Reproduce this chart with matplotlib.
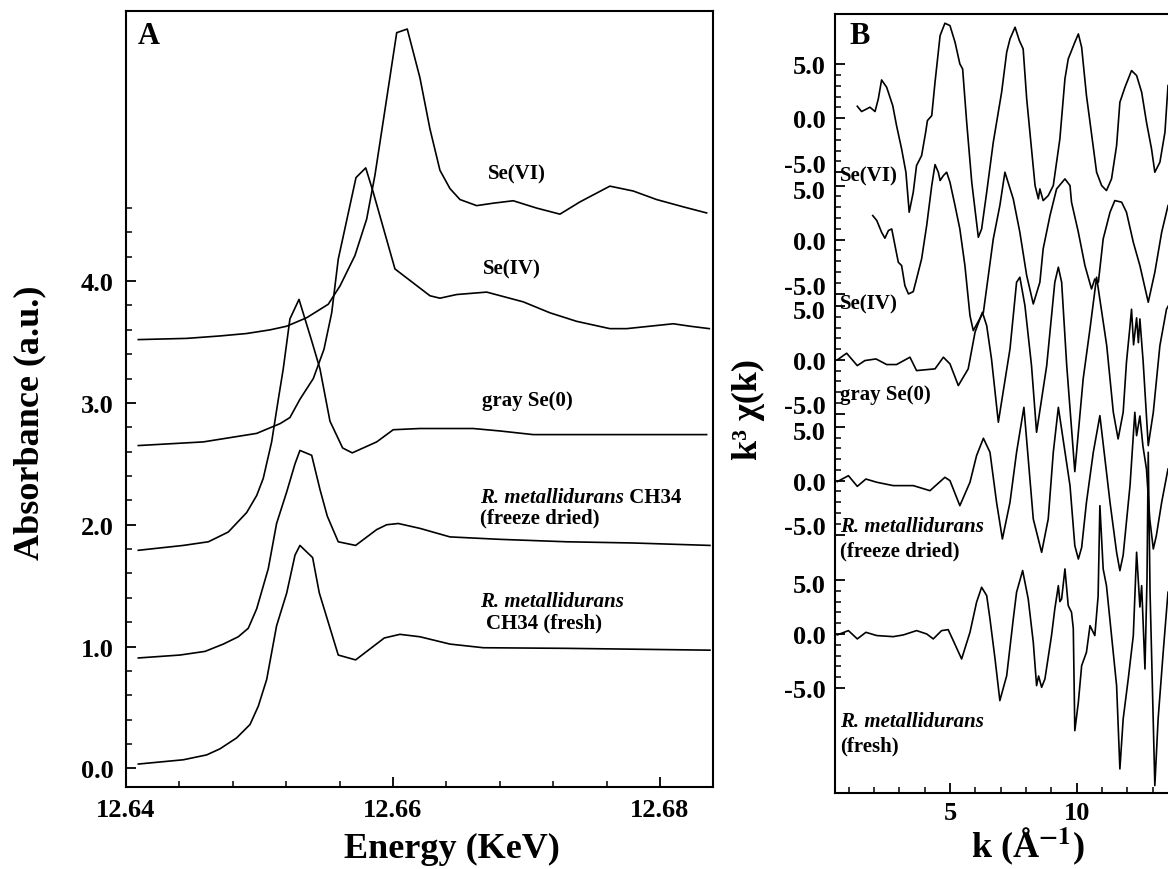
import matplotlib.pyplot as plt
from matplotlib.ticker import FixedLocator, MultipleLocator
from matplotlib.transforms import ScaledTranslation

plt.rcParams['font.family'] = ['Liberation Serif', 'DejaVu Serif']
plt.rcParams['font.weight'] = 'bold'
plt.rcParams['mathtext.fontset'] = 'stix'

# ---------------- panel A: XANES (energy in keV, absorbance) ----------------
fresh_e = [12.64092, 12.64429, 12.64604, 12.64704, 12.64829, 12.64929, 12.64991, 12.65054,
           12.65128, 12.65204, 12.65266, 12.65303, 12.65398, 12.65448, 12.6559, 12.6572,
           12.65935, 12.66052, 12.66202, 12.66427, 12.66677, 12.673, 12.68375]
fresh_a = [0.035, 0.07, 0.11, 0.16, 0.25, 0.36, 0.51, 0.73, 1.17, 1.44, 1.75, 1.83,
           1.73, 1.44, 0.93, 0.89, 1.07, 1.10, 1.08, 1.02, 0.99, 0.985, 0.97]

freeze_e = [12.64092, 12.64404, 12.64592, 12.64729, 12.64841, 12.64916, 12.64979, 12.65066,
            12.65128, 12.65204, 12.65266, 12.65303, 12.65391, 12.65453, 12.65508, 12.6559,
            12.6572, 12.65878, 12.65953, 12.6604, 12.66202, 12.66427, 12.66801, 12.673,
            12.678, 12.68375]
freeze_a = [0.906, 0.93, 0.96, 1.02, 1.08, 1.15, 1.31, 1.64, 2.01, 2.27, 2.50, 2.61,
            2.57, 2.29, 2.07, 1.86, 1.83, 1.96, 2.0, 2.01, 1.97, 1.90, 1.88, 1.86,
            1.85, 1.83]

gray_e = [12.64092, 12.64429, 12.64617, 12.64766, 12.64904, 12.64979, 12.65028, 12.65091,
          12.65141, 12.65178, 12.65228, 12.65296, 12.65391, 12.65453, 12.65528, 12.65623,
          12.65695, 12.65878, 12.66002, 12.66202, 12.666, 12.668, 12.6705, 12.67425, 12.6835]
gray_a = [1.79, 1.83, 1.86, 1.94, 2.10, 2.24, 2.38, 2.68, 3.03, 3.28, 3.69, 3.85,
          3.51, 3.28, 2.85, 2.63, 2.59, 2.68, 2.78, 2.79, 2.79, 2.77, 2.74, 2.74, 2.74]

se4_e = [12.64092, 12.64579, 12.64979, 12.65154, 12.65228, 12.65303, 12.65403, 12.65483,
         12.65541, 12.6559, 12.65723, 12.65796, 12.65852, 12.66015, 12.66277, 12.66352,
         12.66477, 12.66702, 12.66976, 12.67176, 12.67376, 12.67625, 12.67751, 12.67925,
         12.681, 12.68225, 12.6837]
se4_a = [2.65, 2.68, 2.75, 2.83, 2.88, 3.03, 3.20, 3.44, 3.74, 4.18, 4.85, 4.93,
         4.73, 4.10, 3.88, 3.86, 3.89, 3.91, 3.83, 3.74, 3.67, 3.61, 3.61, 3.63,
         3.65, 3.63, 3.61]

se6_e = [12.64092, 12.64455, 12.64704, 12.64904, 12.65079, 12.65204, 12.65354, 12.65515,
         12.65603, 12.65715, 12.65803, 12.65865, 12.65953, 12.66028, 12.66107, 12.66202,
         12.66277, 12.66352, 12.66427, 12.66502, 12.66627, 12.66751, 12.66901, 12.67076,
         12.67251, 12.674, 12.67625, 12.678, 12.67975, 12.68175, 12.6835]
se6_a = [3.52, 3.53, 3.55, 3.57, 3.60, 3.63, 3.70, 3.81, 3.96, 4.21, 4.51, 4.87,
         5.50, 6.04, 6.07, 5.67, 5.25, 4.91, 4.76, 4.67, 4.62, 4.64, 4.66, 4.60,
         4.55, 4.65, 4.78, 4.74, 4.67, 4.61, 4.56]

# ---------------- panel B: EXAFS k^3 chi(k) ----------------
se6_k = [1.34, 1.51, 1.71, 1.84, 2.04, 2.17, 2.30, 2.50, 2.74, 2.89, 3.09, 3.26, 3.39,
         3.55, 3.68, 3.88, 4.04, 4.11, 4.28, 4.41, 4.61, 4.80, 5.00, 5.20, 5.39, 5.50,
         5.66, 5.86, 6.12, 6.25, 6.45, 6.71, 7.04, 7.24, 7.37, 7.57, 7.74, 7.89, 8.03,
         8.22, 8.36, 8.49, 8.55, 8.68, 8.88, 9.08, 9.34, 9.54, 9.67, 9.93, 10.07, 10.20,
         10.39, 10.53, 10.79, 10.99, 11.18, 11.38, 11.58, 11.71, 11.91, 12.17, 12.37,
         12.57, 12.76, 12.96, 13.09, 13.29, 13.49, 13.61]
se6_chi = [1.11, 0.62, 0.86, 1.02, 0.62, 1.79, 3.55, 2.87, 1.17, -0.68, -2.85, -5.01,
           -8.72, -6.87, -4.39, -3.47, -1.30, -0.22, 0.24, 3.34, 7.67, 8.81, 8.59, 7.05,
           5.04, 4.57, -0.37, -5.94, -11.04, -10.27, -6.87, -2.23, 2.41, 6.12, 7.35,
           8.44, 7.20, 6.43, 1.79, -2.85, -6.25, -7.48, -6.56, -7.64, -7.18, -6.25,
           -1.92, 3.65, 5.50, 7.04, 7.82, 6.58, 2.10, -0.37, -5.01, -6.25, -6.71, -5.63,
           -2.54, 1.48, 2.87, 4.42, 3.96, 2.41, -0.37, -2.85, -5.01, -4.08, -1.30, 3.03]

se4_k = [1.95, 2.11, 2.30, 2.43, 2.57, 2.70, 2.83, 2.96, 3.09, 3.22, 3.36, 3.55, 3.68,
         3.88, 4.08, 4.28, 4.41, 4.54, 4.61, 4.74, 4.87, 5.00, 5.20, 5.39, 5.59, 5.79,
         5.92, 6.32, 6.71, 6.97, 7.17, 7.50, 7.76, 8.03, 8.29, 8.55, 8.68, 8.95, 9.21,
         9.54, 9.74, 9.80, 10.07, 10.33, 10.59, 10.72, 10.86, 11.05, 11.32, 11.51,
         11.78, 11.97, 12.24, 12.50, 12.83, 13.09, 13.36, 13.61]
se4_chi = [2.23, 1.77, 0.68, 0.13, 0.84, 0.99, -0.56, -2.10, -2.41, -4.27, -5.04,
           -4.83, -3.65, -1.79, 1.30, 5.01, 6.96, 6.25, 5.48, 5.94, 6.25, 5.32, 3.15,
           0.99, -2.41, -7.05, -8.44, -6.74, 0.06, 3.16, 6.25, 3.77, 0.68, -3.34, -5.97,
           -3.96, -0.86, 2.23, 4.70, 5.63, 5.01, 3.47, 0.68, -2.41, -4.58, -3.65, -3.96,
           0.06, 2.54, 3.62, 3.47, 2.54, -0.25, -2.41, -5.81, -3.03, 0.68, 3.15]

gray_k = [0.55, 0.92, 1.34, 1.64, 2.08, 2.50, 2.89, 3.42, 3.68, 4.41, 4.74, 5.00, 5.33,
          5.72, 5.99, 6.28, 6.45, 6.64, 6.91, 7.37, 7.63, 7.76, 7.96, 8.22, 8.42, 8.82,
          9.14, 9.28, 9.41, 9.61, 9.93, 10.26, 10.53, 10.79, 11.19, 11.45, 11.64, 11.84,
          11.97, 12.10, 12.17, 12.25, 12.37, 12.44, 12.50, 12.63, 12.83, 13.03, 13.29,
          13.55, 13.62]
gray_chi = [0.0, 0.62, -0.53, -0.06, 0.09, -0.43, -0.43, 0.25, -0.99, -0.83, 0.25,
            -0.37, -2.38, -0.83, 2.57, 4.42, 3.18, 0.09, -5.78, 1.02, 7.20, 7.67, 5.04,
            -0.53, -6.71, -0.53, 7.2, 8.6, 7.2, -0.5, -10.36, -1.76, 2.9, 7.67, 1.33,
            -4.85, -7.33, -4.85, -0.21, 2.9, 4.7, 1.4, 3.9, 1.6, 3.8, -0.2, -7.95, -4.85,
            1.33, 4.7, 5.0]

freeze_k = [0.55, 0.99, 1.34, 1.68, 2.11, 2.76, 3.55, 4.21, 4.80, 5.00, 5.39, 5.79,
            6.05, 6.32, 6.58, 6.84, 7.07, 7.37, 7.63, 7.92, 8.29, 8.62, 8.88, 9.08, 9.28,
            9.74, 9.93, 10.07, 10.20, 10.39, 10.66, 10.92, 11.32, 11.58, 11.71, 11.84,
            12.11, 12.30, 12.37, 12.50, 12.62, 12.76, 12.89, 13.03, 13.15, 13.36, 13.61]
freeze_chi = [-0.09, 0.46, -0.53, 0.15, -0.15, -0.46, -0.46, -0.93, 0.31, 0.0, -2.32,
              -0.15, 2.32, 3.93, 2.63, -2.01, -5.41, -2.01, 2.63, 6.8, -3.56, -6.65,
              -3.56, 2.63, 6.8, -0.46, -6.03, -7.27, -6.2, -2.01, 2.63, 6.03, -2.01,
              -6.65, -8.35, -6.9, -0.46, 6.34, 4.17, 6.0, 3.2, 1.08, -3.56, -6.34, -5.1,
              -2.01, 1.08]

fresh_k = [0.55, 0.99, 1.34, 1.68, 2.11, 2.76, 3.16, 3.68, 4.08, 4.34, 4.67, 4.93, 5.13,
           5.46, 5.79, 6.05, 6.25, 6.45, 6.58, 6.78, 6.97, 7.24, 7.50, 7.63, 7.87, 8.09,
           8.29, 8.42, 8.50, 8.62, 8.75, 9.01, 9.14, 9.28, 9.34, 9.41, 9.54, 9.67, 9.80,
           9.87, 9.93, 10.07, 10.20, 10.39, 10.53, 10.72, 10.85, 10.92, 11.05, 11.18,
           11.38, 11.58, 11.71, 11.84, 12.04, 12.24, 12.37, 12.50, 12.57, 12.70, 12.78,
           12.83, 12.90, 13.09, 13.22, 13.42, 13.61]
fresh_chi = [-0.09, 0.31, -0.46, 0.15, -0.15, -0.25, -0.09, 0.31, 0.0, -0.46, 0.31,
             0.40, -0.62, -2.32, 0.15, 2.94, 4.33, 3.56, 1.39, -2.32, -6.18, -3.87,
             1.39, 3.87, 5.88, 3.25, -0.77, -4.79, -3.9, -4.95, -4.17, -0.15, 2.32,
             4.48, 3.0, 3.25, 6.03, 2.63, 2.01, 0.5, -8.97, -6.34, -2.94, -1.70, 0.77,
             -0.15, 3.5, 11.9, 6.03, 4.48, -0.15, -4.79, -12.52, -7.88, -4.17, -0.15,
             7.58, 2.5, 4.48, -3.25, 5.0, 16.85, 4.0, -14.07, -7.88, -1.70, 3.87]

b_series = [(se6_k, se6_chi), (se4_k, se4_chi), (gray_k, gray_chi),
            (freeze_k, freeze_chi), (fresh_k, fresh_chi)]
b_offsets = [47.84, 36.58, 25.42, 14.22, 0.0]

fig = plt.figure(figsize=(11.68, 8.7), dpi=100)

# ---- panel A ----
axA = fig.add_axes([0.1079, 0.0939, 0.5028, 0.8923])
for e, a in [(fresh_e, fresh_a), (freeze_e, freeze_a), (gray_e, gray_a),
             (se4_e, se4_a), (se6_e, se6_a)]:
    axA.plot(e, a, color='black', lw=1.2)
axA.set_xlim(12.64, 12.684)
axA.set_ylim(-0.156, 6.218)
axA.xaxis.set_major_locator(FixedLocator([12.64, 12.66, 12.68]))
axA.xaxis.set_minor_locator(MultipleLocator(0.004))
axA.set_xticklabels(['12.64', '12.66', '12.68'])
axA.yaxis.set_major_locator(FixedLocator([0, 1, 2, 3, 4]))
axA.yaxis.set_minor_locator(FixedLocator([i * 0.2 for i in range(24)]))
axA.set_yticklabels(['0.0', '1.0', '2.0', '3.0', '4.0'])
axA.tick_params(which='both', direction='in', labelsize=19)
axA.tick_params(which='major', length=7, width=1.3)
axA.tick_params(which='minor', length=4, width=1.1)
axA.tick_params(axis='y', pad=9)
axA.tick_params(axis='x', pad=8)
for s in axA.spines.values():
    s.set_linewidth(1.5)

axA.text(12.6693, 4.88, 'Se(VI)', ha='center', va='center', fontsize=15)
axA.text(12.6689, 4.10, 'Se(IV)', ha='center', va='center', fontsize=15)
axA.text(12.6701, 3.02, 'gray Se(0)', ha='center', va='center', fontsize=15)
t1 = axA.text(12.6665, 2.23, 'R. metallidurans', style='italic', ha='left',
              va='center', fontsize=15)
axA.annotate(' CH34', xy=(1, 0.5), xycoords=t1, ha='left', va='center', fontsize=15)
axA.text(12.6665, 2.06, '(freeze dried)', ha='left', va='center', fontsize=15)
axA.text(12.6665, 1.37, 'R. metallidurans', style='italic', ha='left', va='center',
         fontsize=15)
axA.text(12.6670, 1.20, 'CH34 (fresh)', ha='left', va='center', fontsize=15)

# ---- panel B ----
axB = fig.add_axes([0.7149, 0.0874, 0.2851, 0.8954])
for (k, chi), off in zip(b_series, b_offsets):
    axB.plot(k, [c + off for c in chi], color='black', lw=1.2)
axB.set_xlim(0.46, 13.61)
axB.set_ylim(-14.75, 57.51)
axB.spines['right'].set_visible(False)
for s in axB.spines.values():
    s.set_linewidth(1.5)

yt, ylab = [], []
for off in b_offsets:
    for v, lab in [(-5, '-5.0'), (0, '0.0'), (5, '5.0')]:
        yt.append(off + v)
        ylab.append(lab)
order = sorted(range(len(yt)), key=lambda i: yt[i])
yt = [yt[i] for i in order]
ylab = [ylab[i] for i in order]
axB.yaxis.set_major_locator(FixedLocator(yt))
axB.set_yticklabels(ylab)
minor = [off + j for off in b_offsets for j in range(-5, 6) if j % 5 != 0]
axB.yaxis.set_minor_locator(FixedLocator(minor))
axB.xaxis.set_major_locator(FixedLocator([5, 10]))
axB.xaxis.set_minor_locator(FixedLocator(list(range(1, 14))))
axB.set_xticklabels(['5', '10'])
axB.tick_params(which='both', direction='in', labelsize=19)
axB.tick_params(which='major', length=7, width=1.3)
axB.tick_params(which='minor', length=4, width=1.1)
axB.tick_params(axis='y', pad=7)
axB.tick_params(axis='x', pad=6)

# the crowded "-5.0" labels sit a little higher in the original
labels = axB.get_yticklabels()
for i, lab in enumerate(ylab):
    dy = 0
    if lab == '-5.0' and yt[i] > 5:
        dy = 9 if yt[i] > 30 else 10
    elif lab == '5.0' and yt[i] < 45:
        dy = -3
    if dy:
        shift = ScaledTranslation(0, dy / 100, fig.dpi_scale_trans)
        labels[i].set_transform(labels[i].get_transform() + shift)

axB.text(0.66, 42.49, 'Se(VI)', ha='left', va='center', fontsize=15)
axB.text(0.66, 30.61, 'Se(IV)', ha='left', va='center', fontsize=15)
axB.text(0.66, 22.26, 'gray Se(0)', ha='left', va='center', fontsize=15)
axB.text(0.66, 10.02, 'R. metallidurans', style='italic', ha='left', va='center',
         fontsize=15)
axB.text(0.66, 7.70, '(freeze dried)', ha='left', va='center', fontsize=15)
axB.text(0.66, -8.07, 'R. metallidurans', style='italic', ha='left', va='center',
         fontsize=15)
axB.text(0.66, -10.39, '(fresh)', ha='left', va='center', fontsize=15)

# ---- panel letters and axis titles ----
fig.text(149 / 1168, 1 - 37 / 870, 'A', ha='center', va='center', fontsize=22)
fig.text(860 / 1168, 1 - 37 / 870, 'B', ha='center', va='center', fontsize=22)
fig.text(30 / 1168, 1 - 423 / 870, 'Absorbance (a.u.)', rotation=90, ha='center',
         va='center', fontsize=26)
fig.text(452 / 1168, 1 - 858 / 870, 'Energy (KeV)', ha='center', va='baseline',
         fontsize=26)
fig.text(1028 / 1168, 1 - 858 / 870, r'k (Å$^{\mathbf{-1}}$)', ha='center',
         va='baseline', fontsize=26)
fig.text(748 / 1168, 1 - 410 / 870, 'k³ χ(k)', rotation=90, ha='center', va='center',
         fontsize=26)

fig.savefig('out.png', dpi=100)
